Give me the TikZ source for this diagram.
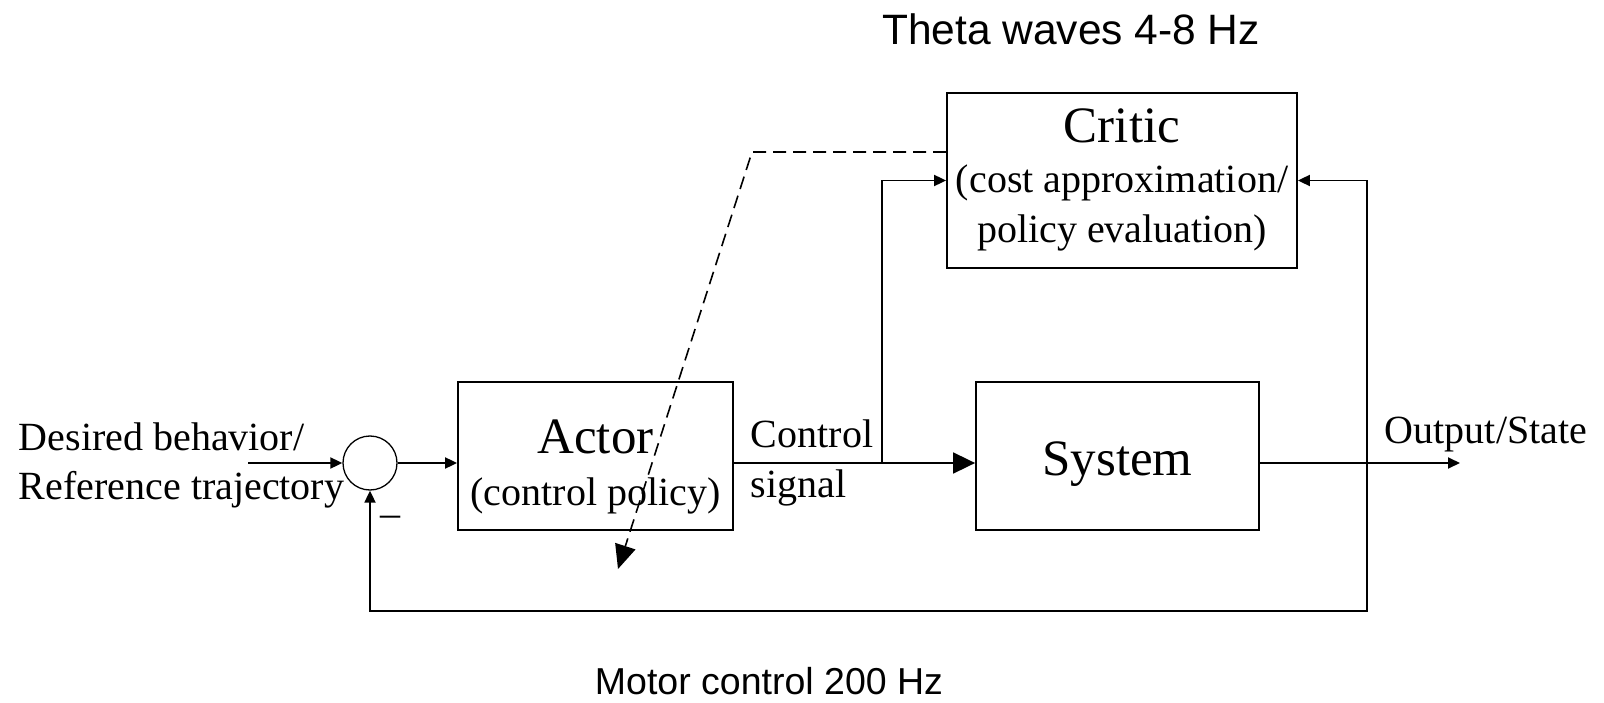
\documentclass[tikz,border=0pt]{standalone}
\usepackage{fontspec}
\setmainfont{Liberation Serif}
\newfontfamily\labelsans{Liberation Sans}
\usetikzlibrary{arrows.meta}

\begin{document}
\begin{tikzpicture}[x=1pt, y=-1pt, line width=1.8pt,
  block/.style={draw, line width=1.8pt, inner sep=0pt},
  sumjunction/.style={draw, circle, line width=1.3pt, minimum size=54pt, inner sep=0pt},
  sig/.style={-{Triangle[length=12pt,width=11pt]}},
  bigsig/.style={-{Triangle[length=22pt,width=21pt]}},
  dashsig/.style={dashed, dash pattern=on 13pt off 7pt, line width=1.6pt,
                  -{Triangle[length=24pt,width=21pt]}},
  txt/.style={font=\fontsize{40}{48}\selectfont, inner sep=0pt},
  bigtxt/.style={font=\fontsize{51}{60}\selectfont, inner sep=0pt, anchor=base},
  sanstxt/.style={inner sep=0pt, anchor=base}
]
\useasboundingbox (0,0) rectangle (1604,703);

% blocks
\node[block, minimum width=275pt, minimum height=148pt] (actor) at (595.5,456) {};
\node[block, minimum width=283pt, minimum height=148pt] (system) at (1117.5,456) {};
\node[block, minimum width=350pt, minimum height=175pt] (critic) at (1122,180.5) {};
\node[sumjunction] (sum) at (370,463) {};

% block texts
\node[bigtxt] (actorT) at (595.5,453) {Actor};
\node[txt, anchor=base] (actorS) at (595.5,505) {(control policy)};
\node[bigtxt] (systemT) at (1117.5,475) {System};
\node[bigtxt] (criticT) at (1122,143) {Critic};
\node[txt, anchor=base] (criticS1) at (1122,193) {(cost approximation/};
\node[txt, anchor=base] (criticS2) at (1122,243) {policy evaluation)};

% signal labels
\node[txt, anchor=base west] (desired) at (18,450) {Desired behavior/};
\node[txt, anchor=base west] (reference) at (18,499) {Reference trajectory};
\node[txt, anchor=base west] (ctrl1) at (750,447) {Control};
\node[txt, anchor=base west] (ctrl2) at (750,497) {signal};
\node[txt, anchor=base west] (output) at (1384,443) {Output/State};
\node[txt, anchor=base] (minus) at (390,526) {–};

% rate annotations
\node[sanstxt, font=\labelsans\fontsize{42.5}{50}\selectfont] (theta) at (1071,45) {Theta waves 4-8 Hz};
\node[sanstxt, font=\labelsans\fontsize{37.5}{45}\selectfont] (motor) at (769,694) {Motor control 200 Hz};

% junction points
\coordinate (inL) at (248,463);
\coordinate (br1) at (882,463);
\coordinate (br2) at (1367,463);
\coordinate (outE) at (1460,463);
\coordinate (fb) at (1367,611);
\coordinate (dk) at (752,152);
\coordinate (dtip) at (618,569);

% forward path
\draw[sig] (inL) -- (sum.west);
\draw[sig] (sum.east) -- (actor.west |- sum.east);
\draw[bigsig] (actor.east |- sum) -- (system.west |- sum);
\draw[sig] (system.east |- sum) -- (outE);

% critic inputs
\draw[sig] (br1) |- (critic.west);
\draw[sig] (br2) |- (critic.east);

% feedback to the summing junction
\draw[sig] (br2) -- (fb) -| (sum.south);

% critic tuning the actor
\draw[dashsig] (critic.west |- dk) -- (dk) -- (dtip);
\end{tikzpicture}
\end{document}
